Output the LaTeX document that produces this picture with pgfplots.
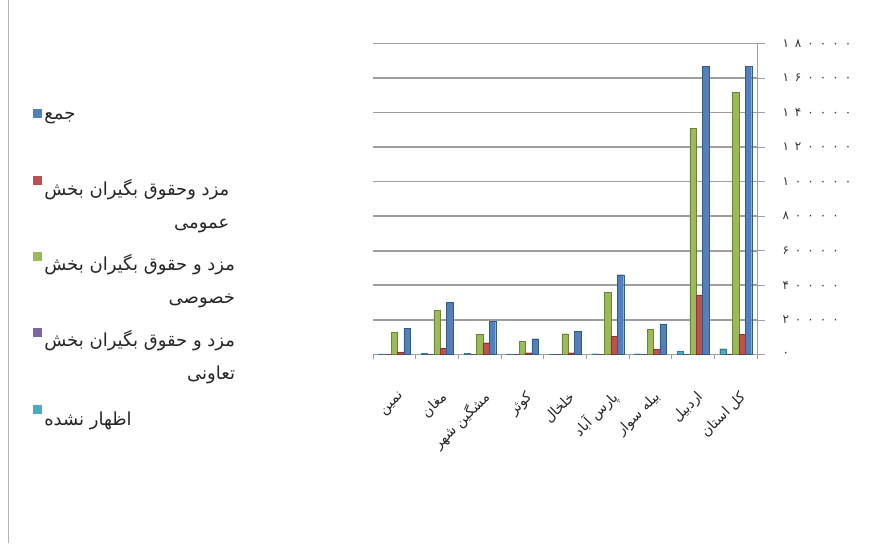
\documentclass[border=0pt]{standalone}
\usepackage{pgfplots}
\pgfplotsset{compat=1.18}
\usepackage{pgfplotstable}
\usepackage{fontspec}
\setmainfont{DejaVu Sans}
\newfontfamily\fa[Script=Arabic]{DejaVu Sans}
\newfontfamily\fadig[LetterSpace=50]{DejaVu Sans}
\TeXXeTstate=1

\definecolor{sBlue}{HTML}{4F81BD}
\definecolor{sRed}{HTML}{C0504D}
\definecolor{sGreen}{HTML}{9BBB59}
\definecolor{sPurple}{HTML}{8064A2}
\definecolor{sCyan}{HTML}{4BACC6}

% cyan = izhar nashode, purple = taavoni, green = khosusi, red = omumi, blue = jam
\pgfplotstableread{
x cyan purple green red blue
0 300 100 12900 1500 15200
1 500 100 25500 3500 30300
2 500 100 11600 6800 19300
3 300 100 7500 1000 9100
4 300 100 12000 1000 13300
5 400 100 36000 10400 46100
6 400 100 14500 2900 17700
7 1800 200 131000 34500 166800
8 3300 300 151600 11600 166800
}\data

\begin{document}
\begin{tikzpicture}
\path (0,0) rectangle (879pt,543pt);
\draw[gray!60, line width=0.8pt] (8pt,0) -- (8pt,543pt);
\begin{axis}[
  at={(373pt,189pt)}, anchor=south west,
  scale only axis, width=384pt, height=311pt,
  ybar=0pt, bar width=6.4pt,
  xmin=-0.5, xmax=8.5, ymin=0, ymax=180000,
  axis x line*=bottom, axis y line*=right,
  axis line style={gray!75, line width=0.8pt},
  xtick={0,...,8},
  major x tick style={draw=none},
  minor xtick={-0.5,0.5,...,8.5},
  minor x tick style={gray!75, line width=0.6pt},
  minor tick length=5pt,
  xtick align=outside,
  xticklabels={
    {\fa\beginR نمین\endR},
    {\fa\beginR مغان\endR},
    {\fa\beginR مشگین شهر\endR},
    {\fa\beginR کوثر\endR},
    {\fa\beginR خلخال\endR},
    {\fa\beginR پارس آباد\endR},
    {\fa\beginR بیله سوار\endR},
    {\fa\beginR اردبیل\endR},
    {\fa\beginR کل استان\endR}},
  xticklabel style={yshift=-30pt, xshift=10pt, rotate=45, anchor=east, font=\fontsize{14}{16}\selectfont, text=black!85},
  ytick={0,20000,...,180000},
  yticklabels={۰,۲۰۰۰۰,۴۰۰۰۰,۶۰۰۰۰,۸۰۰۰۰,۱۰۰۰۰۰,۱۲۰۰۰۰,۱۴۰۰۰۰,۱۶۰۰۰۰,۱۸۰۰۰۰},
  scaled y ticks=false,
  ytick align=outside, major tick length=8pt,
  y tick style={gray!75, line width=0.6pt},
  yticklabel style={anchor=west, xshift=14pt, font=\fadig\fontsize{12}{14}\selectfont, text=black!80},
  ymajorgrids, grid style={gray!75, line width=1.6pt},
  reverse legend,
  legend style={at={(-0.893,0.797)}, anchor=north west, draw=none, fill=none,
    row sep=47pt, font=\fontsize{18}{33}\selectfont, text=black!85,
    nodes={inner sep=2pt}},
  legend cell align=left,
  legend image code/.code={\fill[#1,draw=none] (0pt,-1pt) rectangle (9pt,8pt);},
]
\addplot[fill=sCyan, draw=sCyan!70!black, line width=0.3pt] table[x=x,y=cyan]{\data};
\addlegendentry{\rule{0pt}{27pt}{\fa\beginR اظهار نشده\endR}}
\addplot[fill=sPurple, draw=sPurple!70!black, line width=0.3pt] table[x=x,y=purple]{\data};
\addlegendentry{\begin{tabular}[t]{@{}r@{}}{\fa\beginR مزد و حقوق بگیران  بخش\endR}\\{\fa\beginR تعاونی\endR}\end{tabular}}
\addplot[fill=sGreen, draw=sGreen!70!black, line width=0.3pt] table[x=x,y=green]{\data};
\addlegendentry{\begin{tabular}[t]{@{}r@{}}{\fa\beginR مزد و حقوق بگیران  بخش\endR}\\{\fa\beginR خصوصی\endR}\end{tabular}}
\addplot[fill=sRed, draw=sRed!70!black, line width=0.3pt] table[x=x,y=red]{\data};
\addlegendentry{\begin{tabular}[t]{@{}r@{}}{\fa\beginR مزد وحقوق بگیران  بخش\endR}\\{\fa\beginR عمومی\endR}\end{tabular}}
\addplot[fill=sBlue, draw=sBlue!70!black, line width=0.3pt] table[x=x,y=blue]{\data};
\addlegendentry{{\fa\beginR جمع\endR}}
\end{axis}
\end{tikzpicture}
\end{document}
